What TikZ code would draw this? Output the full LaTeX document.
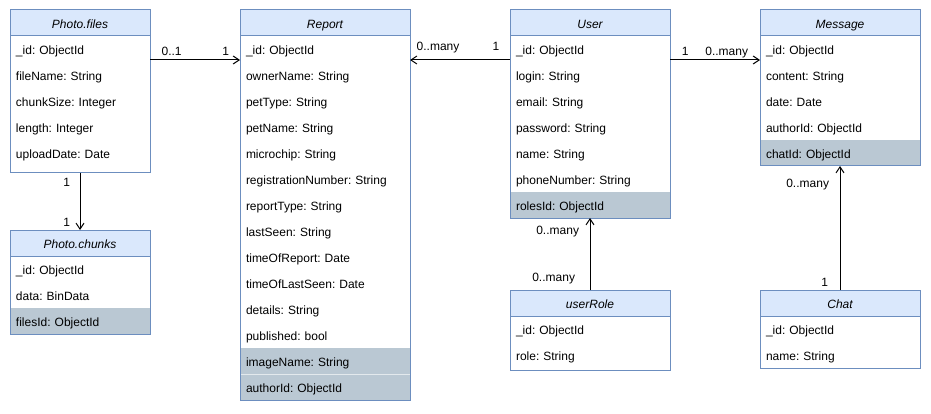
\documentclass[tikz,border=0pt]{standalone}
\usepackage{fontspec}
\setmainfont{Liberation Sans}
\usetikzlibrary{arrows.meta}
\usetikzlibrary{positioning}
\definecolor{headfill}{HTML}{DAE8FC}
\definecolor{boxline}{HTML}{6C8EBF}
\definecolor{keyfill}{HTML}{BAC8D3}

\begin{document}
\begin{tikzpicture}[
            x=1pt,y=-1pt,
            every node/.style={font=\fontsize{12pt}{14pt}\selectfont\frenchspacing,outer sep=0pt},
            header/.style={rectangle,draw=boxline,fill=headfill,line width=1pt,anchor=north west,minimum height=26pt,inner sep=0pt,text height=10.5pt,text depth=0pt,font=\fontsize{12pt}{14pt}\selectfont\itshape},
            field/.style={rectangle,minimum height=26pt,inner xsep=6pt,inner ysep=0pt,align=left,text height=11pt,text depth=0pt},
            narrow field/.style={field,text width=128pt},
            mid field/.style={field,text width=148pt},
            wide field/.style={field,text width=158pt},
            key/.style={fill=keyfill},
            box/.style={draw=boxline,line width=1pt},
            label node/.style={inner sep=0pt,text depth=0pt},
            assoc/.style={line width=1pt,-{Straight Barb[length=6pt,width=8pt]}}
        ]
        \useasboundingbox (0,0) rectangle (931,414);
        % Photo.files
        \node[header,minimum width=140pt] (files) at (10,10) {Photo.files};
        \node[narrow field,below=0pt of files] (files 1) {\_id: ObjectId};
        \node[narrow field,below=0pt of files 1] (files 2) {fileName: String};
        \node[narrow field,below=0pt of files 2] (files 3) {chunkSize: Integer};
        \node[narrow field,below=0pt of files 3] (files 4) {length: Integer};
        \node[narrow field,below=0pt of files 4] (files 5) {uploadDate: Date};
        \draw[box] (files.north west) rectangle ([yshift=-7pt]files 5.south east);
        % Photo.chunks
        \node[header,minimum width=140pt] (chunks) at (10,230) {Photo.chunks};
        \node[narrow field,below=0pt of chunks] (chunks 1) {\_id: ObjectId};
        \node[narrow field,below=0pt of chunks 1] (chunks 2) {data: BinData};
        \node[narrow field,key,below=0pt of chunks 2] (chunks 3) {filesId: ObjectId};
        \draw[box] (chunks.north west) rectangle (chunks 3.south east);
        % Report
        \node[header,minimum width=170pt] (report) at (240,10) {Report};
        \node[wide field,below=0pt of report] (report 1) {\_id: ObjectId};
        \node[wide field,below=0pt of report 1] (report 2) {ownerName: String};
        \node[wide field,below=0pt of report 2] (report 3) {petType: String};
        \node[wide field,below=0pt of report 3] (report 4) {petName: String};
        \node[wide field,below=0pt of report 4] (report 5) {microchip: String};
        \node[wide field,below=0pt of report 5] (report 6) {registrationNumber: String};
        \node[wide field,below=0pt of report 6] (report 7) {reportType: String};
        \node[wide field,below=0pt of report 7] (report 8) {lastSeen: String};
        \node[wide field,below=0pt of report 8] (report 9) {timeOfReport: Date};
        \node[wide field,below=0pt of report 9] (report 10) {timeOfLastSeen: Date};
        \node[wide field,below=0pt of report 10] (report 11) {details: String};
        \node[wide field,below=0pt of report 11] (report 12) {published: bool};
        \node[wide field,key,below=0pt of report 12] (report 13) {imageName: String};
        \node[wide field,key,below=0pt of report 13] (report 14) {authorId: ObjectId};
        \draw[white!60!keyfill] (report 13.south west) -- (report 13.south east);
        \draw[box] (report.north west) rectangle (report 14.south east);
        % User
        \node[header,minimum width=160pt] (user) at (510,10) {User};
        \node[mid field,below=0pt of user] (user 1) {\_id: ObjectId};
        \node[mid field,below=0pt of user 1] (user 2) {login: String};
        \node[mid field,below=0pt of user 2] (user 3) {email: String};
        \node[mid field,below=0pt of user 3] (user 4) {password: String};
        \node[mid field,below=0pt of user 4] (user 5) {name: String};
        \node[mid field,below=0pt of user 5] (user 6) {phoneNumber: String};
        \node[mid field,key,below=0pt of user 6] (user 7) {rolesId: ObjectId};
        \draw[box] (user.north west) rectangle (user 7.south east);
        % userRole
        \node[header,minimum width=160pt] (role) at (510,290) {userRole};
        \node[mid field,below=0pt of role] (role 1) {\_id: ObjectId};
        \node[mid field,below=0pt of role 1] (role 2) {role: String};
        \draw[box] (role.north west) rectangle ([yshift=-2pt]role 2.south east);
        % Message
        \node[header,minimum width=160pt] (message) at (760,10) {Message};
        \node[mid field,below=0pt of message] (message 1) {\_id: ObjectId};
        \node[mid field,below=0pt of message 1] (message 2) {content: String};
        \node[mid field,below=0pt of message 2] (message 3) {date: Date};
        \node[mid field,below=0pt of message 3] (message 4) {authorId: ObjectId};
        \node[mid field,key,below=0pt of message 4] (message 5) {chatId: ObjectId};
        \draw[box] (message.north west) rectangle (message 5.south east);
        % Chat
        \node[header,minimum width=160pt] (chat) at (760,290) {Chat};
        \node[mid field,below=0pt of chat] (chat 1) {\_id: ObjectId};
        \node[mid field,below=0pt of chat 1] (chat 2) {name: String};
        \draw[box] (chat.north west) rectangle (chat 2.south east);

        \draw[assoc] ([yshift=-50pt]files.north east) -- node[label node,pos=0.24,above=4pt] {0..1} node[label node,pos=0.84,above=4pt] {1} ([yshift=-50pt]report.north west);
        \draw[assoc] ([yshift=-50pt]user.north west) -- node[label node,pos=0.14,above=9pt] {1} node[label node,pos=0.72,above=9pt] {0..many} ([yshift=-50pt]report.north east);
        \draw[assoc] ([yshift=-50pt]user.north east) -- node[label node,pos=0.17,above=4.5pt] {1} node[label node,pos=0.63,above=4.5pt] {0..many} ([yshift=-50pt]message.north west);
        \draw[assoc] ([yshift=-7pt]files 5.south) -- node[label node,pos=0.16,left=10pt] {1} node[label node,pos=0.86,left=10pt] {1} (chunks.north);
        \draw[assoc] (role.north) -- node[label node,pos=0.18,left=15pt] {0..many} node[label node,pos=0.83,left=11pt] {0..many} (user 7.south);
        \draw[assoc] (chat.north) -- node[label node,pos=0.065,left=12pt] {1} node[label node,pos=0.86,left=11pt] {0..many} (message 5.south);
    \end{tikzpicture}
\end{document}
